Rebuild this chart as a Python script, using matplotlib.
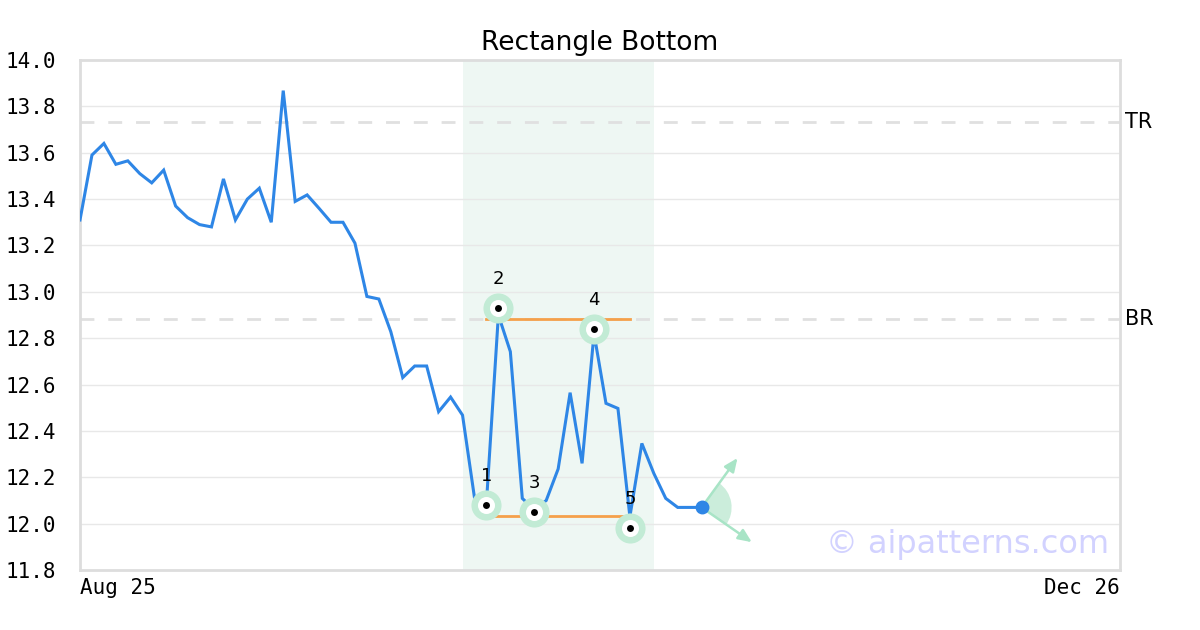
import matplotlib
matplotlib.use("Agg")
import matplotlib.pyplot as plt
from matplotlib.patches import Wedge
from matplotlib.transforms import ScaledTranslation

# price series (one value per trading day)
prices = [13.31, 13.59, 13.64, 13.55, 13.565, 13.51, 13.47, 13.525, 13.37, 13.32,
          13.29, 13.28, 13.487, 13.31, 13.40, 13.447, 13.30, 13.868, 13.39, 13.418,
          13.36, 13.30, 13.30, 13.21, 12.98, 12.969, 12.828, 12.63, 12.68, 12.68,
          12.483, 12.546, 12.468, 12.112, 12.09, 12.90, 12.742, 12.109, 12.06, 12.10,
          12.236, 12.565, 12.26, 12.82, 12.519, 12.497, 12.03, 12.346, 12.217, 12.109,
          12.07, 12.07, 12.07]

# pattern pivot points
pivot_idx = [34, 35, 38, 43, 46]
pivot_val = [12.08, 12.93, 12.05, 12.84, 11.98]
pivot_lbl = ["1", "2", "3", "4", "5"]

# rectangle bounds
rect_top = 12.883
rect_bottom = 12.034
rect_start, rect_end = 34, 46
zone_start, zone_end = 32, 48

# resistance levels
tr_level = 13.733
br_level = 12.883

# projection arrows from last point
arrow_up = (55.0, 12.283)
arrow_down = (56.2, 11.92)

x_ticks = [0, 87]
x_labels = ["Aug 25", "Dec 26"]
y_ticks = [11.8, 12.0, 12.2, 12.4, 12.6, 12.8, 13.0, 13.2, 13.4, 13.6, 13.8, 14.0]

fig = plt.figure(figsize=(12, 6.3), dpi=100)
ax = fig.add_axes([80 / 1200, 60 / 630, 1040 / 1200, 510 / 630])

ax.set_xlim(x_ticks[0], x_ticks[-1])
ax.set_ylim(11.8, 14.0)
ax.set_axisbelow(True)
ax.grid(axis="y", color="#e8e8e8", linewidth=1)

ax.axvspan(zone_start, zone_end, color="#eef7f3", zorder=0.3, lw=0)

ax.axhline(tr_level, color="#e0e0e0", lw=2, ls=(0, (5, 5)), zorder=1)
ax.axhline(br_level, color="#e0e0e0", lw=2, ls=(0, (5, 5)), zorder=1)
tr = ax.get_yaxis_transform()
ax.text(1.005, tr_level, "TR", transform=tr, va="center", ha="left", fontsize=15)
ax.text(1.005, br_level, "BR", transform=tr, va="center", ha="left", fontsize=15)

x = list(range(len(prices)))
ax.plot(x, prices, color="#2e86e6", lw=2.2, zorder=3, solid_joinstyle="miter")

ax.plot([rect_start, rect_end], [rect_top, rect_top], color="#f5a04a", lw=2, zorder=2)
ax.plot([rect_start, rect_end], [rect_bottom, rect_bottom], color="#f5a04a", lw=2, zorder=2)

ax.scatter(pivot_idx, pivot_val, s=470, color="#c2ebd5", zorder=4, lw=0)
ax.scatter(pivot_idx, pivot_val, s=150, color="white", zorder=5, lw=0)
ax.scatter(pivot_idx, pivot_val, s=25, color="black", zorder=6, lw=0)
for i, v, t in zip(pivot_idx, pivot_val, pivot_lbl):
    ax.annotate(t, (i, v), xytext=(0, 21), textcoords="offset points",
                ha="center", va="center", fontsize=13, zorder=7)

# projection wedge and arrows
last_x, last_y = x[-1], prices[-1]
wedge = Wedge((0, 0), 0.3, -36, 55, color="#bfe9d3", alpha=0.8, lw=0,
              transform=fig.dpi_scale_trans + ScaledTranslation(last_x, last_y, ax.transData))
ax.add_patch(wedge)
for end in (arrow_up, arrow_down):
    ax.annotate("", xy=end, xytext=(last_x, last_y),
                arrowprops=dict(arrowstyle="-|>,head_length=0.8,head_width=0.35",
                                color="#a8e4c6", lw=1.8, shrinkA=0, shrinkB=0),
                zorder=2)
ax.plot(last_x, last_y, "o", color="#2e86e6", ms=9, zorder=6)

ax.text(0.99, 0.033, "\u00a9 aipatterns.com", transform=ax.transAxes, ha="right",
        va="baseline", fontsize=23, color="#d2d2ff", zorder=1)

ax.set_yticks(y_ticks)
ax.set_yticklabels([f"{v:.1f}" for v in y_ticks], family="DejaVu Sans Mono", fontsize=15)
ax.set_xticks(x_ticks)
ax.set_xticklabels(x_labels, family="DejaVu Sans Mono", fontsize=15)
xl = ax.get_xticklabels()
xl[0].set_ha("left")
xl[-1].set_ha("right")
ax.tick_params(axis="y", length=0, pad=17)
ax.tick_params(axis="x", length=0, pad=6)

for s in ax.spines.values():
    s.set_color("#dddddd")
    s.set_linewidth(2)

ax.set_title("Rectangle Bottom", fontsize=19, pad=7)

fig.savefig("out.png", dpi=100)
